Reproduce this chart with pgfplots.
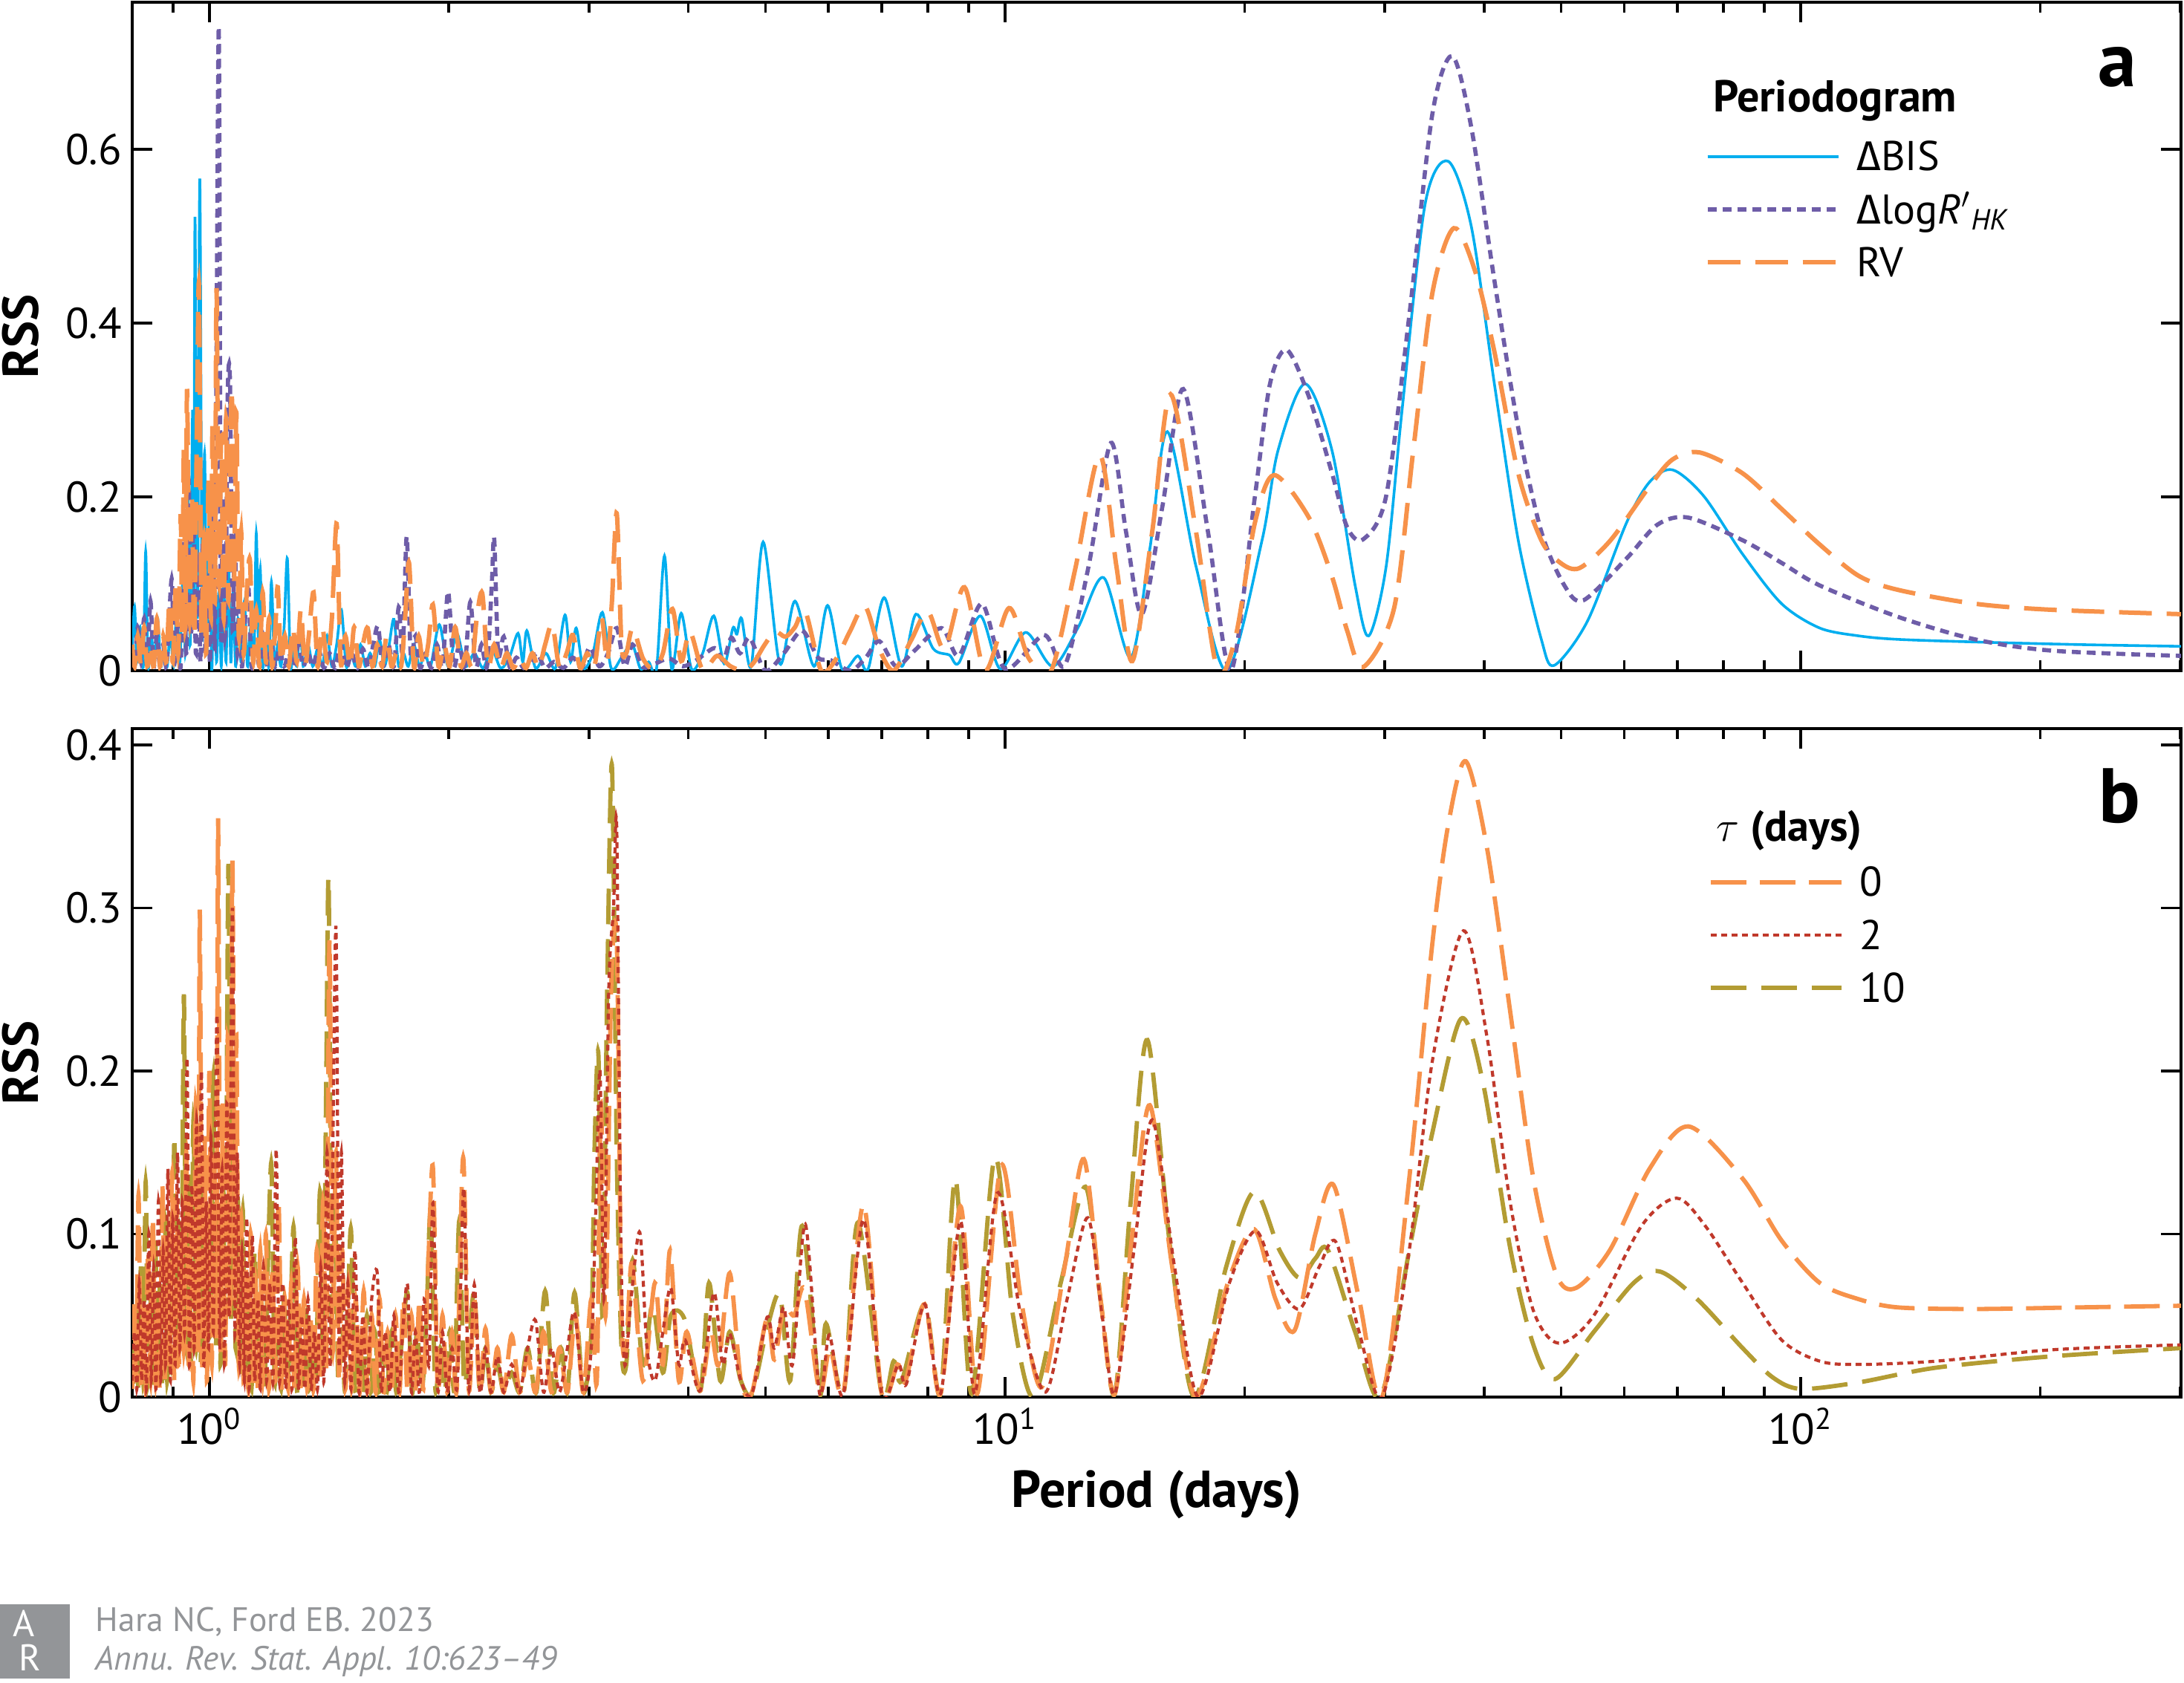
\documentclass[border=0pt]{standalone}
\usepackage{fontspec}
\setmainfont{PT Sans}
\newfontfamily\greekfont{Fira Sans}
\usepackage{pgfplots}
\pgfplotsset{compat=1.18}
\definecolor{cBIS}{HTML}{00AEEF}
\definecolor{cHK}{HTML}{6E5DA8}
\definecolor{cRV}{HTML}{F7924A}
\definecolor{cT2}{HTML}{C0392B}
\definecolor{cT10}{HTML}{B39C33}
\definecolor{cFoot}{HTML}{939598}
\pgfplotsset{
  panel/.style={
    scale only axis, width=689.5pt, height=225pt,
    xmin=-0.09691, xmax=2.478, ymin=0,
    xtick={0,1,2},
    minor xtick={-0.04576,0.30103,0.47712,0.60206,0.69897,0.77815,0.84510,0.90309,0.95424,1.30103,1.47712,1.60206,1.69897,1.77815,1.84510,1.90309,1.95424,2.30103,2.47712},
    axis line style={line width=0.9pt},
    every tick/.style={black, line width=0.9pt},
    major tick length=6.75pt, minor tick length=3.5pt,
    tick align=inside,
    /pgf/number format/assume math mode=true,
    yticklabel style={/pgf/number format/fixed,/pgf/number format/precision=1},
    tick label style={font=\fontsize{14.5}{17}\selectfont},
    every axis y label/.style={at={(axis description cs:-0.0544,0.5)}, rotate=90, anchor=center, font=\bfseries\fontsize{17}{20}\selectfont},
    ylabel={RSS},
    legend cell align=left,
    legend image code/.code={\draw[##1] (0pt,0pt) -- (44pt,0pt);},
  },
  sBIS/.style={draw=cBIS, line width=0.9pt, smooth},
  sHK/.style={draw=cHK, line width=1.4pt, dash pattern=on 3pt off 2pt, smooth},
  sRV/.style={draw=cRV, line width=1.5pt, dash pattern=on 11pt off 5pt, smooth},
  sT0/.style={draw=cRV, line width=1.45pt, dash pattern=on 12pt off 4.5pt, smooth},
  sT2/.style={draw=cT2, line width=1.05pt, dash pattern=on 2pt off 1.5pt, smooth},
  sT10/.style={draw=cT10, line width=1.45pt, dash pattern=on 12pt off 5pt, smooth},
}
\begin{document}
\begin{tikzpicture}
\useasboundingbox (0,0) rectangle (735pt,566.5pt);
% ---------------- panel a ----------------
\begin{axis}[panel, at={(44.5pt,340.75pt)}, anchor=south west,
  ymax=0.769, ytick={0,0.2,0.4,0.6}, xticklabels={},
  legend style={at={(rel axis cs:0.7675,0.791)}, anchor=north west, draw=none, fill=none,
    inner sep=0pt, row sep=8.3pt, column sep=5.5pt, font=\fontsize{14}{16.8}\selectfont,
    nodes={inner sep=0pt, text height=9.5pt, text depth=0pt}},
]
\addplot[sBIS] coordinates {(-0.097,0.02)(-0.094,0.074)(-0.091,0.01)(-0.087,0.05)(-0.083,0.005)(-0.080,0.137)(-0.077,0.005)(-0.073,0.04)(-0.069,0.01)(-0.065,0.06)(-0.061,0.005)(-0.057,0.03)(-0.053,0.005)(-0.049,0.045)(-0.045,0.005)(-0.041,0.07)(-0.037,0.01)(-0.033,0.12)(-0.030,0.02)(-0.027,0.20)(-0.024,0.03)(-0.021,0.30)(-0.0195,0.05)(-0.018,0.522)(-0.015,0.06)(-0.012,0.566)(-0.009,0.04)(-0.006,0.25)(-0.003,0.02)(0.000,0.18)(0.003,0.0)(0.006,0.12)(0.009,0.01)(0.012,0.09)(0.015,0.005)(0.018,0.10)(0.021,0.01)(0.024,0.13)(0.027,0.01)(0.030,0.09)(0.033,0.005)(0.036,0.06)(0.040,0.01)(0.044,0.08)(0.048,0.005)(0.052,0.05)(0.056,0.01)(0.059,0.158)(0.062,0.02)(0.064,0.117)(0.067,0.005)(0.071,0.04)(0.075,0.005)(0.078,0.102)(0.082,0.005)(0.086,0.03)(0.090,0.005)(0.094,0.05)(0.098,0.129)(0.102,0.005)(0.106,0.03)(0.110,0.005)(0.114,0.051)(0.118,0.005)(0.124,0.03)(0.130,0.005)(0.136,0.025)(0.142,0.005)(0.148,0.04)(0.154,0.005)(0.160,0.03)(0.166,0.07)(0.172,0.005)(0.178,0.02)(0.184,0.005)(0.190,0.03)(0.196,0.005)(0.202,0.02)(0.208,0.005)(0.214,0.035)(0.220,0.005)(0.226,0.03)(0.232,0.059)(0.238,0.005)(0.244,0.02)(0.250,0.005)(0.257,0.03)(0.264,0.005)(0.271,0.02)(0.278,0.005)(0.289,0.053)(0.300,0.005)(0.311,0.043)(0.322,0.005)(0.333,0.02)(0.344,0.003)(0.355,0.025)(0.366,0.003)(0.377,0.015)(0.388,0.043)(0.394,0.01)(0.399,0.046)(0.410,0.003)(0.423,0.02)(0.435,0.003)(0.447,0.064)(0.454,0.01)(0.461,0.049)(0.470,0.003)(0.482,0.02)(0.494,0.067)(0.505,0.003)(0.518,0.015)(0.531,0.031)(0.542,0.002)(0.552,0.01)(0.562,0.002)(0.572,0.132)(0.581,0.002)(0.593,0.066)(0.606,0.002)(0.620,0.02)(0.634,0.063)(0.647,0.008)(0.658,0.049)(0.663,0.042)(0.669,0.060)(0.681,0.005)(0.696,0.148)(0.717,0.008)(0.736,0.080)(0.760,0.005)(0.777,0.075)(0.795,0.002)(0.815,0.017)(0.828,0.002)(0.848,0.084)(0.870,0.005)(0.888,0.065)(0.910,0.025)(0.930,0.018)(0.942,0.009)(0.969,0.063)(0.994,0.002)(1.026,0.044)(1.060,0.005)(1.092,0.05)(1.124,0.107)(1.158,0.015)(1.182,0.14)(1.204,0.275)(1.240,0.12)(1.279,0.0)(1.323,0.15)(1.343,0.253)(1.377,0.330)(1.411,0.253)(1.440,0.098)(1.457,0.040)(1.479,0.12)(1.499,0.30)(1.528,0.537)(1.557,0.586)(1.586,0.511)(1.615,0.330)(1.645,0.150)(1.674,0.036)(1.690,0.006)(1.732,0.057)(1.781,0.170)(1.810,0.217)(1.839,0.231)(1.878,0.201)(1.927,0.134)(1.976,0.077)(2.024,0.049)(2.073,0.040)(2.122,0.036)(2.219,0.033)(2.350,0.030)(2.478,0.028)};
\addlegendentry{{\greekfont Δ}BIS}
\addplot[sHK] coordinates {(-0.097,0.03)(-0.094,0.005)(-0.090,0.05)(-0.086,0.01)(-0.082,0.06)(-0.078,0.005)(-0.074,0.08)(-0.070,0.005)(-0.066,0.04)(-0.062,0.005)(-0.058,0.03)(-0.054,0.005)(-0.050,0.07)(-0.047,0.104)(-0.044,0.01)(-0.040,0.05)(-0.036,0.005)(-0.032,0.15)(-0.029,0.02)(-0.026,0.22)(-0.023,0.04)(-0.020,0.18)(-0.017,0.02)(-0.014,0.12)(-0.011,0.01)(-0.008,0.16)(-0.005,0.02)(-0.002,0.10)(0.001,0.01)(0.004,0.20)(0.007,0.03)(0.0095,0.44)(0.012,0.733)(0.0145,0.05)(0.017,0.20)(0.020,0.04)(0.023,0.314)(0.026,0.332)(0.029,0.05)(0.032,0.15)(0.035,0.02)(0.038,0.08)(0.041,0.005)(0.045,0.06)(0.049,0.099)(0.053,0.005)(0.058,0.03)(0.063,0.005)(0.068,0.04)(0.073,0.005)(0.078,0.03)(0.083,0.005)(0.088,0.025)(0.094,0.005)(0.100,0.02)(0.106,0.005)(0.112,0.03)(0.118,0.005)(0.124,0.02)(0.130,0.005)(0.137,0.025)(0.144,0.003)(0.151,0.02)(0.158,0.003)(0.165,0.03)(0.172,0.003)(0.179,0.02)(0.186,0.003)(0.193,0.025)(0.200,0.003)(0.206,0.03)(0.212,0.051)(0.218,0.005)(0.225,0.03)(0.232,0.005)(0.238,0.073)(0.243,0.02)(0.248,0.154)(0.253,0.02)(0.259,0.04)(0.265,0.003)(0.272,0.02)(0.279,0.003)(0.286,0.03)(0.293,0.005)(0.300,0.091)(0.307,0.005)(0.314,0.03)(0.321,0.005)(0.328,0.079)(0.335,0.005)(0.342,0.03)(0.349,0.005)(0.355,0.10)(0.358,0.152)(0.363,0.02)(0.370,0.039)(0.378,0.003)(0.386,0.015)(0.395,0.003)(0.404,0.01)(0.412,0.02)(0.422,0.003)(0.433,0.01)(0.445,0.003)(0.457,0.015)(0.468,0.003)(0.478,0.027)(0.490,0.005)(0.501,0.02)(0.512,0.049)(0.522,0.005)(0.532,0.03)(0.545,0.004)(0.560,0.008)(0.578,0.014)(0.595,0.005)(0.612,0.012)(0.635,0.026)(0.646,0.012)(0.656,0.038)(0.667,0.02)(0.679,0.038)(0.699,0.0)(0.722,0.02)(0.745,0.046)(0.765,0.015)(0.781,0.012)(0.806,0.0)(0.825,0.015)(0.842,0.034)(0.863,0.005)(0.885,0.022)(0.920,0.049)(0.942,0.017)(0.971,0.077)(1.000,0.002)(1.049,0.041)(1.075,0.006)(1.105,0.12)(1.133,0.262)(1.152,0.16)(1.172,0.065)(1.198,0.19)(1.224,0.324)(1.255,0.16)(1.284,0.0)(1.314,0.20)(1.333,0.33)(1.354,0.369)(1.382,0.315)(1.411,0.227)(1.430,0.165)(1.450,0.151)(1.479,0.201)(1.508,0.408)(1.537,0.640)(1.562,0.707)(1.586,0.625)(1.615,0.449)(1.645,0.279)(1.674,0.160)(1.703,0.098)(1.727,0.081)(1.781,0.129)(1.820,0.168)(1.859,0.176)(1.927,0.150)(1.976,0.124)(2.024,0.098)(2.122,0.062)(2.219,0.036)(2.316,0.023)(2.478,0.017)};
\addlegendentry{{\greekfont Δ}log\textit{R}$'$\textsubscript{\textit{HK}}}
\addplot[sRV] coordinates {(-0.097,0.03)(-0.094,0.005)(-0.090,0.04)(-0.086,0.005)(-0.082,0.05)(-0.078,0.005)(-0.074,0.03)(-0.070,0.005)(-0.066,0.06)(-0.062,0.005)(-0.058,0.04)(-0.054,0.01)(-0.050,0.08)(-0.046,0.01)(-0.042,0.10)(-0.039,0.02)(-0.036,0.18)(-0.034,0.04)(-0.032,0.256)(-0.030,0.05)(-0.028,0.324)(-0.025,0.06)(-0.022,0.20)(-0.019,0.04)(-0.016,0.25)(-0.013,0.444)(-0.010,0.05)(-0.007,0.15)(-0.004,0.02)(-0.001,0.22)(0.002,0.06)(0.004,0.284)(0.007,0.08)(0.009,0.44)(0.012,0.10)(0.015,0.27)(0.018,0.06)(0.021,0.29)(0.024,0.08)(0.028,0.324)(0.031,0.10)(0.034,0.297)(0.037,0.04)(0.040,0.16)(0.043,0.02)(0.047,0.09)(0.051,0.127)(0.055,0.01)(0.059,0.07)(0.063,0.005)(0.067,0.09)(0.071,0.01)(0.075,0.06)(0.079,0.005)(0.083,0.05)(0.086,0.096)(0.090,0.01)(0.095,0.04)(0.100,0.005)(0.105,0.05)(0.110,0.01)(0.115,0.07)(0.120,0.005)(0.125,0.04)(0.131,0.09)(0.136,0.005)(0.142,0.05)(0.148,0.01)(0.154,0.06)(0.160,0.169)(0.165,0.01)(0.171,0.04)(0.177,0.005)(0.182,0.05)(0.188,0.005)(0.193,0.03)(0.199,0.049)(0.205,0.005)(0.211,0.03)(0.217,0.005)(0.223,0.04)(0.229,0.005)(0.235,0.02)(0.241,0.005)(0.246,0.06)(0.251,0.124)(0.257,0.005)(0.263,0.04)(0.269,0.005)(0.275,0.03)(0.281,0.076)(0.288,0.005)(0.295,0.03)(0.302,0.005)(0.309,0.05)(0.316,0.005)(0.323,0.02)(0.330,0.005)(0.336,0.06)(0.343,0.089)(0.350,0.005)(0.358,0.03)(0.366,0.003)(0.374,0.02)(0.382,0.003)(0.390,0.015)(0.398,0.003)(0.406,0.02)(0.414,0.003)(0.422,0.03)(0.431,0.053)(0.440,0.003)(0.449,0.02)(0.457,0.041)(0.466,0.003)(0.475,0.02)(0.484,0.005)(0.493,0.061)(0.500,0.01)(0.506,0.08)(0.512,0.181)(0.518,0.03)(0.524,0.02)(0.532,0.049)(0.545,0.014)(0.558,0.002)(0.570,0.02)(0.582,0.071)(0.593,0.011)(0.604,0.045)(0.620,0.001)(0.638,0.017)(0.655,0.005)(0.672,0.0)(0.684,0.009)(0.698,0.03)(0.711,0.045)(0.724,0.039)(0.736,0.05)(0.749,0.068)(0.769,0.0)(0.788,0.014)(0.805,0.045)(0.824,0.074)(0.842,0.025)(0.860,0.0)(0.882,0.035)(0.903,0.068)(0.924,0.025)(0.949,0.096)(0.975,0.0)(1.005,0.072)(1.030,0.014)(1.058,0.0)(1.088,0.116)(1.119,0.248)(1.140,0.12)(1.160,0.011)(1.185,0.16)(1.208,0.318)(1.240,0.16)(1.267,0.0)(1.290,0.04)(1.314,0.17)(1.338,0.225)(1.382,0.176)(1.411,0.108)(1.430,0.046)(1.450,0.004)(1.489,0.072)(1.513,0.253)(1.537,0.434)(1.564,0.509)(1.591,0.459)(1.615,0.367)(1.645,0.227)(1.674,0.150)(1.698,0.124)(1.722,0.118)(1.761,0.150)(1.810,0.212)(1.839,0.243)(1.873,0.251)(1.927,0.227)(1.976,0.186)(2.024,0.145)(2.073,0.109)(2.122,0.093)(2.219,0.077)(2.316,0.070)(2.478,0.065)};
\addlegendentry{RV}
\node[anchor=west, font=\bfseries\fontsize{15}{18}\selectfont] at (rel axis cs:0.7665,0.853) {Periodogram};
\node[font=\bfseries\fontsize{26}{30}\selectfont] at (rel axis cs:0.969,0.903) {a};
\end{axis}
% ---------------- panel b ----------------
\begin{axis}[panel, at={(44.5pt,96.25pt)}, anchor=south west,
  ymax=0.41, ytick={0,0.1,0.2,0.3,0.4},
  xticklabels={10\textsuperscript{0},10\textsuperscript{1},10\textsuperscript{2}},
  xlabel={Period (days)},
  every axis x label/.style={at={(axis description cs:0.5,-0.1456)}, anchor=center, font=\bfseries\fontsize{17.5}{21}\selectfont},
  legend style={at={(rel axis cs:0.769,0.792)}, anchor=north west, draw=none, fill=none,
    inner sep=0pt, row sep=8.3pt, column sep=5.5pt, font=\fontsize{14}{16.8}\selectfont,
    nodes={inner sep=0pt, text height=9.5pt, text depth=0pt}},
]
\addplot[sT10, forget plot] coordinates {(-0.097,0.03)(-0.095,0.005)(-0.092,0.05)(-0.089,0.005)(-0.086,0.08)(-0.083,0.01)(-0.080,0.132)(-0.077,0.01)(-0.074,0.06)(-0.071,0.005)(-0.068,0.10)(-0.065,0.01)(-0.062,0.07)(-0.059,0.005)(-0.056,0.11)(-0.053,0.01)(-0.050,0.09)(-0.047,0.02)(-0.044,0.16)(-0.041,0.03)(-0.038,0.10)(-0.035,0.04)(-0.032,0.247)(-0.029,0.03)(-0.026,0.14)(-0.023,0.02)(-0.020,0.17)(-0.017,0.03)(-0.014,0.10)(-0.011,0.02)(-0.008,0.13)(-0.005,0.03)(-0.002,0.09)(0.002,0.04)(0.005,0.197)(0.008,0.03)(0.011,0.12)(0.014,0.02)(0.017,0.15)(0.020,0.04)(0.024,0.327)(0.027,0.05)(0.030,0.18)(0.033,0.03)(0.036,0.12)(0.039,0.01)(0.042,0.115)(0.045,0.005)(0.049,0.07)(0.053,0.005)(0.057,0.09)(0.061,0.01)(0.065,0.06)(0.069,0.005)(0.073,0.07)(0.078,0.143)(0.082,0.01)(0.086,0.05)(0.090,0.005)(0.094,0.06)(0.098,0.005)(0.102,0.05)(0.106,0.104)(0.110,0.005)(0.114,0.04)(0.118,0.005)(0.122,0.05)(0.126,0.005)(0.130,0.04)(0.134,0.01)(0.139,0.126)(0.143,0.02)(0.147,0.20)(0.150,0.315)(0.154,0.03)(0.158,0.12)(0.162,0.01)(0.166,0.06)(0.170,0.005)(0.174,0.05)(0.178,0.103)(0.183,0.005)(0.188,0.04)(0.193,0.003)(0.198,0.05)(0.203,0.003)(0.208,0.04)(0.213,0.003)(0.218,0.03)(0.223,0.003)(0.229,0.04)(0.235,0.003)(0.241,0.03)(0.249,0.064)(0.255,0.003)(0.261,0.04)(0.267,0.003)(0.273,0.05)(0.278,0.113)(0.284,0.005)(0.290,0.03)(0.296,0.003)(0.302,0.04)(0.308,0.005)(0.314,0.108)(0.320,0.01)(0.326,0.03)(0.333,0.065)(0.340,0.003)(0.347,0.03)(0.354,0.003)(0.362,0.02)(0.370,0.003)(0.380,0.015)(0.390,0.003)(0.400,0.03)(0.411,0.003)(0.422,0.065)(0.432,0.003)(0.442,0.03)(0.450,0.003)(0.459,0.064)(0.470,0.003)(0.480,0.04)(0.484,0.15)(0.489,0.210)(0.494,0.05)(0.500,0.25)(0.506,0.387)(0.512,0.15)(0.518,0.03)(0.524,0.02)(0.532,0.084)(0.545,0.02)(0.557,0.057)(0.570,0.015)(0.580,0.05)(0.597,0.048)(0.617,0.004)(0.628,0.070)(0.642,0.01)(0.654,0.04)(0.668,0.01)(0.682,0.002)(0.700,0.04)(0.717,0.063)(0.730,0.01)(0.745,0.105)(0.767,0.002)(0.775,0.045)(0.797,0.002)(0.815,0.107)(0.845,0.002)(0.860,0.022)(0.870,0.01)(0.899,0.057)(0.919,0.002)(0.9375,0.134)(0.958,0.002)(0.987,0.147)(1.010,0.05)(1.036,0.0)(1.070,0.07)(1.101,0.129)(1.120,0.06)(1.138,0.002)(1.158,0.12)(1.179,0.219)(1.208,0.09)(1.238,0.0)(1.278,0.08)(1.313,0.126)(1.345,0.09)(1.370,0.073)(1.390,0.085)(1.406,0.090)(1.440,0.04)(1.472,0.0)(1.508,0.090)(1.537,0.162)(1.573,0.232)(1.601,0.192)(1.635,0.091)(1.664,0.032)(1.691,0.011)(1.740,0.04)(1.790,0.070)(1.823,0.077)(1.870,0.06)(1.927,0.030)(1.965,0.012)(2.000,0.005)(2.073,0.009)(2.170,0.018)(2.316,0.025)(2.478,0.030)};
\addplot[sT0, forget plot] coordinates {(-0.097,0.005)(-0.094,0.06)(-0.092,0.01)(-0.089,0.124)(-0.086,0.01)(-0.083,0.05)(-0.080,0.005)(-0.077,0.09)(-0.074,0.01)(-0.071,0.11)(-0.068,0.01)(-0.065,0.06)(-0.062,0.005)(-0.059,0.13)(-0.056,0.01)(-0.053,0.10)(-0.050,0.02)(-0.047,0.137)(-0.044,0.01)(-0.041,0.12)(-0.038,0.02)(-0.035,0.09)(-0.032,0.03)(-0.029,0.15)(-0.026,0.02)(-0.023,0.12)(-0.020,0.01)(-0.017,0.18)(-0.014,0.03)(-0.012,0.299)(-0.009,0.02)(-0.006,0.16)(-0.003,0.01)(0.000,0.20)(0.003,0.02)(0.006,0.15)(0.009,0.04)(0.011,0.355)(0.014,0.03)(0.017,0.18)(0.020,0.02)(0.023,0.22)(0.026,0.05)(0.029,0.329)(0.032,0.06)(0.034,0.222)(0.037,0.02)(0.040,0.11)(0.043,0.01)(0.046,0.08)(0.049,0.005)(0.052,0.10)(0.055,0.01)(0.058,0.07)(0.061,0.005)(0.064,0.09)(0.067,0.01)(0.071,0.10)(0.075,0.005)(0.079,0.08)(0.083,0.01)(0.087,0.12)(0.091,0.005)(0.095,0.06)(0.099,0.005)(0.103,0.07)(0.107,0.005)(0.111,0.08)(0.115,0.005)(0.119,0.06)(0.123,0.005)(0.127,0.05)(0.131,0.005)(0.135,0.09)(0.139,0.01)(0.143,0.12)(0.147,0.02)(0.151,0.28)(0.155,0.03)(0.159,0.15)(0.163,0.01)(0.167,0.09)(0.171,0.005)(0.175,0.07)(0.179,0.005)(0.184,0.06)(0.189,0.003)(0.194,0.065)(0.199,0.003)(0.204,0.05)(0.209,0.003)(0.214,0.06)(0.219,0.003)(0.224,0.04)(0.229,0.003)(0.234,0.05)(0.239,0.003)(0.244,0.06)(0.249,0.003)(0.254,0.05)(0.259,0.003)(0.264,0.06)(0.269,0.005)(0.275,0.08)(0.281,0.141)(0.287,0.005)(0.293,0.05)(0.299,0.003)(0.305,0.04)(0.311,0.005)(0.319,0.147)(0.326,0.005)(0.333,0.06)(0.340,0.003)(0.347,0.042)(0.354,0.003)(0.362,0.03)(0.370,0.003)(0.380,0.038)(0.390,0.003)(0.400,0.025)(0.410,0.003)(0.420,0.04)(0.430,0.003)(0.440,0.03)(0.450,0.003)(0.460,0.05)(0.470,0.003)(0.480,0.06)(0.487,0.01)(0.492,0.18)(0.498,0.05)(0.505,0.25)(0.512,0.28)(0.518,0.05)(0.524,0.03)(0.531,0.082)(0.545,0.01)(0.560,0.070)(0.570,0.02)(0.579,0.090)(0.590,0.01)(0.600,0.04)(0.617,0.004)(0.630,0.04)(0.640,0.02)(0.654,0.076)(0.668,0.01)(0.682,0.003)(0.701,0.049)(0.710,0.023)(0.722,0.055)(0.735,0.05)(0.748,0.066)(0.767,0.003)(0.780,0.03)(0.797,0.003)(0.822,0.118)(0.845,0.002)(0.865,0.02)(0.875,0.01)(0.899,0.057)(0.919,0.002)(0.944,0.117)(0.965,0.002)(0.995,0.142)(1.020,0.06)(1.046,0.006)(1.075,0.08)(1.099,0.146)(1.120,0.06)(1.138,0.002)(1.160,0.10)(1.182,0.179)(1.210,0.08)(1.240,0.0)(1.280,0.07)(1.313,0.103)(1.340,0.06)(1.364,0.041)(1.390,0.10)(1.413,0.130)(1.445,0.06)(1.474,0.0)(1.508,0.134)(1.537,0.278)(1.557,0.351)(1.579,0.390)(1.606,0.336)(1.635,0.236)(1.664,0.134)(1.693,0.075)(1.718,0.067)(1.760,0.09)(1.810,0.14)(1.859,0.166)(1.927,0.134)(1.976,0.096)(2.024,0.070)(2.073,0.060)(2.122,0.055)(2.219,0.054)(2.350,0.055)(2.478,0.056)};
\addplot[sT2, forget plot] coordinates {(-0.097,0.01)(-0.094,0.04)(-0.091,0.005)(-0.088,0.07)(-0.085,0.01)(-0.082,0.06)(-0.079,0.005)(-0.076,0.10)(-0.073,0.01)(-0.070,0.08)(-0.067,0.005)(-0.064,0.12)(-0.061,0.01)(-0.058,0.09)(-0.055,0.02)(-0.052,0.14)(-0.049,0.01)(-0.046,0.11)(-0.043,0.02)(-0.040,0.15)(-0.037,0.03)(-0.034,0.12)(-0.031,0.04)(-0.028,0.208)(-0.025,0.02)(-0.022,0.13)(-0.019,0.03)(-0.016,0.17)(-0.013,0.04)(-0.010,0.20)(-0.007,0.02)(-0.004,0.12)(-0.001,0.03)(0.002,0.16)(0.005,0.04)(0.008,0.18)(0.010,0.229)(0.013,0.03)(0.016,0.14)(0.019,0.02)(0.022,0.18)(0.025,0.05)(0.029,0.300)(0.032,0.04)(0.035,0.15)(0.038,0.02)(0.041,0.09)(0.044,0.01)(0.047,0.11)(0.050,0.005)(0.054,0.099)(0.057,0.01)(0.061,0.06)(0.064,0.005)(0.068,0.08)(0.072,0.01)(0.076,0.07)(0.080,0.01)(0.084,0.152)(0.088,0.01)(0.092,0.07)(0.096,0.005)(0.100,0.06)(0.104,0.005)(0.108,0.098)(0.112,0.005)(0.116,0.05)(0.120,0.005)(0.124,0.06)(0.128,0.005)(0.132,0.04)(0.136,0.005)(0.140,0.08)(0.144,0.01)(0.148,0.15)(0.152,0.02)(0.159,0.289)(0.163,0.02)(0.166,0.150)(0.170,0.01)(0.174,0.07)(0.178,0.005)(0.183,0.09)(0.188,0.003)(0.193,0.05)(0.198,0.003)(0.204,0.06)(0.211,0.076)(0.216,0.003)(0.221,0.04)(0.227,0.003)(0.232,0.05)(0.238,0.003)(0.243,0.04)(0.249,0.069)(0.254,0.003)(0.259,0.04)(0.264,0.003)(0.270,0.06)(0.276,0.02)(0.281,0.119)(0.287,0.005)(0.293,0.04)(0.299,0.003)(0.305,0.03)(0.311,0.005)(0.316,0.07)(0.320,0.127)(0.326,0.005)(0.333,0.069)(0.340,0.003)(0.347,0.03)(0.354,0.003)(0.362,0.025)(0.370,0.003)(0.380,0.02)(0.390,0.003)(0.400,0.03)(0.410,0.047)(0.420,0.003)(0.430,0.03)(0.440,0.003)(0.450,0.03)(0.459,0.052)(0.470,0.003)(0.480,0.03)(0.486,0.12)(0.491,0.200)(0.496,0.06)(0.502,0.25)(0.508,0.30)(0.512,0.349)(0.517,0.10)(0.522,0.02)(0.530,0.06)(0.541,0.101)(0.550,0.03)(0.560,0.01)(0.570,0.04)(0.580,0.067)(0.590,0.02)(0.598,0.035)(0.617,0.004)(0.634,0.064)(0.645,0.02)(0.654,0.039)(0.668,0.01)(0.682,0.002)(0.701,0.049)(0.710,0.03)(0.722,0.055)(0.733,0.02)(0.749,0.106)(0.767,0.002)(0.779,0.038)(0.797,0.002)(0.822,0.109)(0.845,0.002)(0.866,0.02)(0.876,0.008)(0.899,0.057)(0.919,0.002)(0.944,0.108)(0.962,0.002)(0.990,0.125)(1.020,0.05)(1.051,0.003)(1.078,0.06)(1.104,0.110)(1.122,0.05)(1.138,0.002)(1.162,0.09)(1.185,0.170)(1.213,0.08)(1.243,0.0)(1.282,0.07)(1.315,0.102)(1.342,0.07)(1.370,0.054)(1.395,0.08)(1.416,0.095)(1.445,0.04)(1.474,0.0)(1.508,0.090)(1.537,0.206)(1.576,0.286)(1.606,0.220)(1.635,0.119)(1.664,0.053)(1.696,0.033)(1.740,0.05)(1.800,0.105)(1.844,0.122)(1.880,0.105)(1.927,0.070)(1.976,0.035)(2.024,0.022)(2.073,0.020)(2.170,0.022)(2.316,0.029)(2.478,0.032)};
\addlegendimage{sT0}
\addlegendentry{0}
\addlegendimage{sT2}
\addlegendentry{2}
\addlegendimage{sT10}
\addlegendentry{10}
\node[anchor=west, font=\fontsize{14.5}{17}\selectfont] at (rel axis cs:0.768,0.847) {$\tau$ \textbf{(days)}};
\node[font=\bfseries\fontsize{26}{30}\selectfont] at (rel axis cs:0.970,0.899) {b};
\end{axis}
% ---------------- footer ----------------
\fill[cFoot] (0pt,1.5pt) rectangle (23.5pt,26.5pt);
\node[text=white, font=\fontsize{12.5}{12.5}\selectfont, inner sep=0pt] at (8pt,20pt) {A};
\node[text=white, font=\fontsize{12.5}{12.5}\selectfont, inner sep=0pt] at (10pt,8.5pt) {R};
\node[anchor=west, text=cFoot, font=\fontsize{11.4}{13.5}\selectfont, inner sep=0pt] at (32pt,20.5pt) {Hara NC, Ford EB. 2023};
\node[anchor=west, text=cFoot, font=\itshape\fontsize{11.3}{13.5}\selectfont, inner sep=0pt] at (32pt,7.25pt) {Annu. Rev. Stat. Appl. 10:623–49};
\end{tikzpicture}
\end{document}
